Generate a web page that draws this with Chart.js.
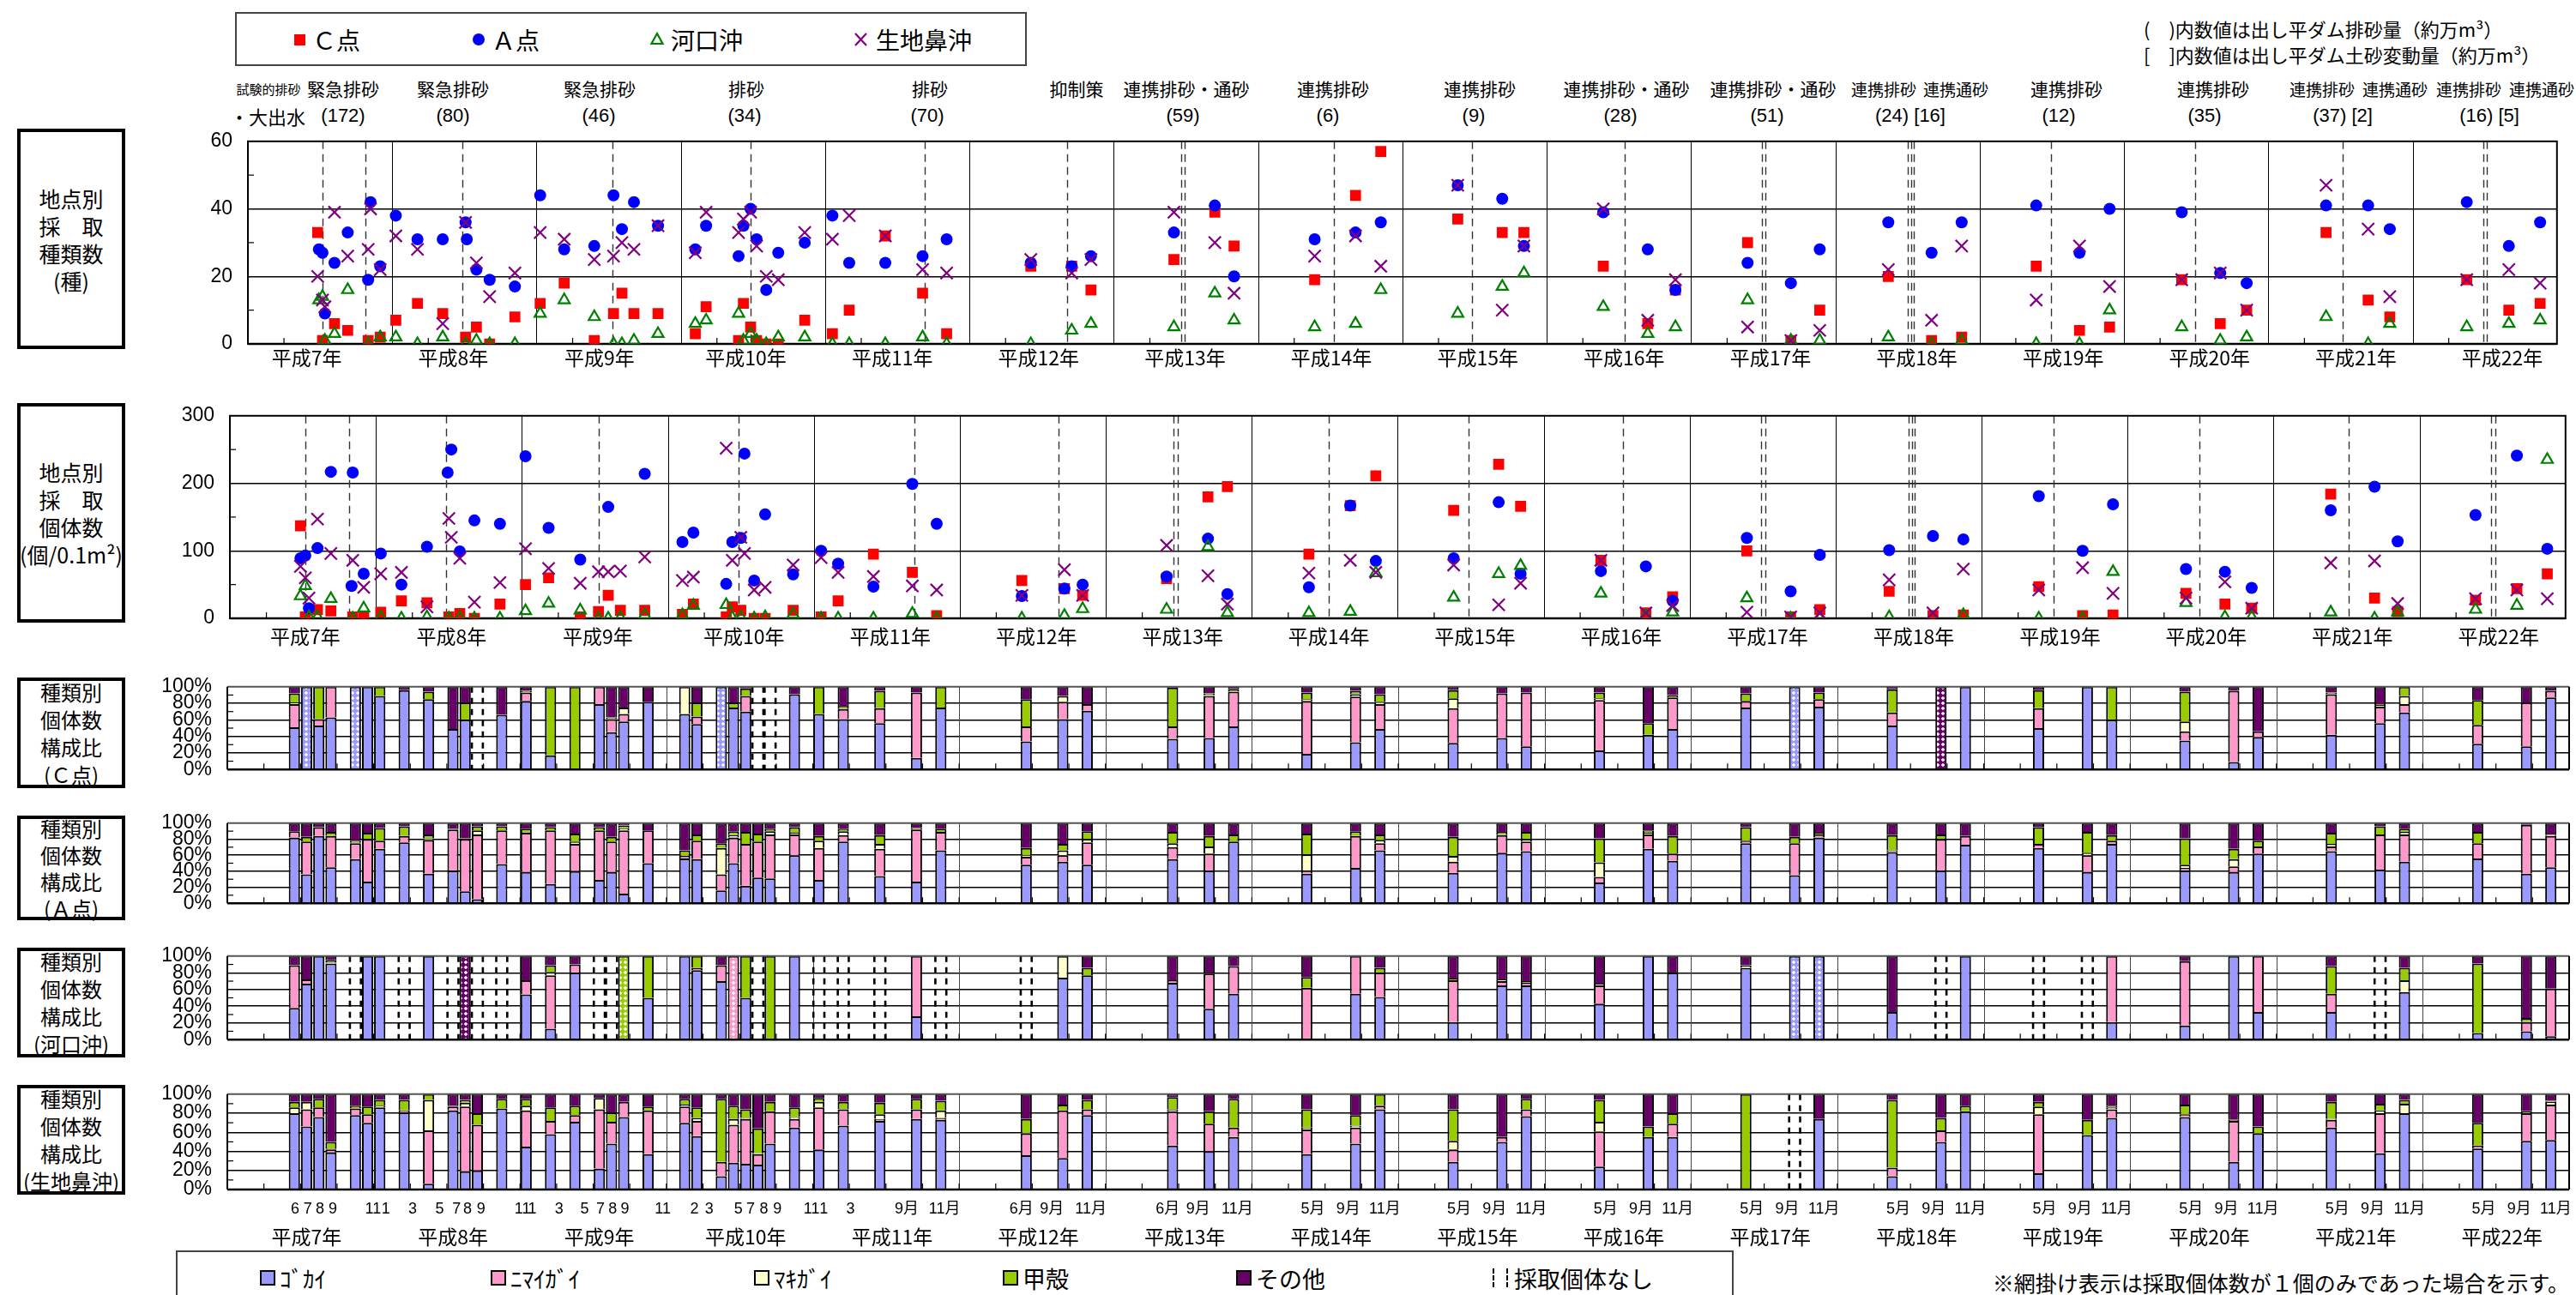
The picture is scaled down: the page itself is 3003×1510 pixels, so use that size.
<!DOCTYPE html>
<html lang="ja">
<head>
<meta charset="utf-8">
<title>地点別 採取種類数・個体数・種類別個体数構成比</title>
<script src="https://cdn.jsdelivr.net/npm/chart.js@4.4.1/dist/chart.umd.min.js"></script>
<style>
  body { margin: 0; width: 3003px; height: 1510px; position: relative; overflow: hidden; background: #fff;
         font-family: "Noto Sans CJK JP", sans-serif; color: #000; }
  canvas { position: absolute; left: 0; }
  .t { position: absolute; white-space: nowrap; line-height: 1; transform: translate(-50%, -50%); }
  .l { position: absolute; white-space: nowrap; line-height: 1; transform: translateY(-50%); }
  .num { font-family: "Liberation Sans", sans-serif; }
  .box { position: absolute; left: 20px; width: 126px; border: 4px solid #000; box-sizing: border-box;
         display: flex; align-items: center; justify-content: center; text-align: center; }
  .frame { position: absolute; border: 2px solid #444; box-sizing: border-box; }
  .sq { position: absolute; width: 18px; height: 18px; border: 2px solid #000; box-sizing: border-box; }
</style>
</head>
<body>

<!-- top legend -->
<div class="frame" style="left:274px;top:14px;width:923px;height:63px"></div>
<svg style="position:absolute;left:0;top:0" width="1200" height="80">
  <rect x="343" y="40" width="13" height="13" fill="#ff0000"/>
  <circle cx="558" cy="46" r="7" fill="#0000ff"/>
  <polygon points="766,39 772.5,51 759.5,51" fill="none" stroke="#008000" stroke-width="2.2"/>
  <path d="M997 39 L1010 53 M1010 39 L997 53" stroke="#800080" stroke-width="2.2"/>
</svg>
<div class="l" style="left:364px;top:46px;font-size:28px">Ｃ点</div>
<div class="l" style="left:573px;top:46px;font-size:28px">Ａ点</div>
<div class="l" style="left:782px;top:46px;font-size:28px">河口沖</div>
<div class="l" style="left:1021px;top:46px;font-size:28px">生地鼻沖</div>

<div class="l" style="left:2499px;top:33px;font-size:22px">(　)内数値は出し平ダム排砂量（約万m³）</div>
<div class="l" style="left:2499px;top:63px;font-size:22px">[　]内数値は出し平ダム土砂変動量（約万m³）</div>

<div id="notes"></div>

<!-- left title boxes -->
<div class="box" style="top:150px;height:257px;font-size:25px;line-height:32px">地点別<br>採　取<br>種類数<br>(種)</div>
<div class="box" style="top:470px;height:256px;font-size:25px;line-height:32px">地点別<br>採　取<br>個体数<br>(個/0.1m²)</div>
<div class="box" style="top:790px;height:129px;font-size:24px;line-height:32px">種類別<br>個体数<br>構成比<br>(Ｃ点)</div>
<div class="box" style="top:951px;height:122px;font-size:24px;line-height:31px">種類別<br>個体数<br>構成比<br>(Ａ点)</div>
<div class="box" style="top:1105px;height:128px;font-size:24px;line-height:32px">種類別<br>個体数<br>構成比<br>(河口沖)</div>
<div class="box" style="top:1265px;height:128px;font-size:24px;line-height:32px">種類別<br>個体数<br>構成比<br>(生地鼻沖)</div>

<!-- bottom legend -->
<div class="frame" style="left:205px;top:1458px;width:1816px;height:70px"></div>
<div id="catLegend"></div>
<div class="l" style="right:8px;top:1495px;font-size:25px">※網掛け表示は採取個体数が１個のみであった場合を示す。</div>

<script>
// ---------- Data ---------- //
// x positions are months counted from January of 平成7年 (0 .. 192)

const yearNames = ['平成7年', '平成8年', '平成9年', '平成10年', '平成11年', '平成12年', '平成13年', '平成14年',
                   '平成15年', '平成16年', '平成17年', '平成18年', '平成19年', '平成20年', '平成21年', '平成22年'];

// flushing events (dashed lines) and their captions
const events = [6.2, 9.8, 17.8, 30.3, 41.8, 56.3, 68.1, 77.6, 77.9, 90.3, 101.8, 114.5,
                125.9, 126.2, 138.0, 138.3, 138.5, 149.9, 161.9, 174.2, 185.9, 186.2];
const eventNames = [
  ['試験的排砂', 313, 15], ['緊急排砂', 400, 21], ['緊急排砂', 528, 21], ['緊急排砂', 699, 21],
  ['排砂', 870, 21], ['排砂', 1084, 21], ['抑制策', 1255, 21], ['連携排砂・通砂', 1383, 21],
  ['連携排砂', 1554, 21], ['連携排砂', 1725, 21], ['連携排砂・通砂', 1896, 21], ['連携排砂・通砂', 2067, 21],
  ['連携排砂', 2196, 19], ['連携通砂', 2280, 19], ['連携排砂', 2409, 21], ['連携排砂', 2580, 21],
  ['連携排砂', 2707, 19], ['連携通砂', 2792, 19], ['連携排砂', 2878, 19], ['連携通砂', 2963, 19]
];
const eventVolumes = [
  ['(172)', 400], ['(80)', 528], ['(46)', 698], ['(34)', 868], ['(70)', 1081], ['(59)', 1379],
  ['(6)', 1548], ['(9)', 1718], ['(28)', 1889], ['(51)', 2060], ['(24) [16]', 2227], ['(12)', 2400],
  ['(35)', 2570], ['(37) [2]', 2731], ['(16) [5]', 2902]
];

// 地点別採取種類数 (種)  [month, value]
const spC = [[5.8,33],[6.2,1],[7.2,6],[8.3,4],[10.0,1],[11.0,2],[12.3,7],[14.1,12],[16.2,9],[18.1,2],[19.0,5],[20.1,0],
  [22.2,8],[24.3,12],[26.3,18],[28.8,1],[30.4,9],[31.1,15],[32.1,9],[34.1,9],[37.2,3],[38.1,11],[40.8,1],[41.2,12],
  [41.8,5],[42.3,1],[43.1,0],[44.1,0],[46.3,7],[48.6,3],[50.0,10],[53.0,32],[56.1,15],[58.1,3],[65.1,23],[68.5,23],
  [70.1,16],[77.0,25],[80.4,39],[82.0,29],[88.7,19],[92.1,44],[94.2,57],[100.6,37],[104.3,33],[106.1,33],[112.7,23],
  [116.4,6],[118.7,16],[124.7,30],[128.3,1],[130.7,10],[136.4,20],[140.0,1],[142.5,2],[148.7,23],[152.3,4],[154.8,5],
  [160.8,19],[164.0,6],[166.2,10],[172.8,33],[176.3,13],[178.1,8],[184.5,19],[188.0,10],[190.6,12]];
const spA = [[5.9,28],[6.2,27],[6.4,9],[7.2,24],[8.3,33],[10.0,19],[10.2,42],[11.0,23],[12.3,38],[14.1,31],[16.2,31],
  [18.1,36],[18.2,31],[19.0,22],[20.1,19],[22.2,17],[24.3,44],[26.3,28],[28.8,29],[30.4,44],[31.1,34],[32.1,42],[34.1,35],
  [37.2,28],[38.1,35],[40.8,26],[41.2,35],[41.8,40],[42.3,31],[43.1,16],[44.1,27],[46.3,30],[48.6,38],[50.0,24],[53.0,24],
  [56.1,26],[58.1,31],[65.1,24],[68.5,23],[70.1,26],[77.0,33],[80.4,41],[82.0,20],[88.7,31],[92.1,33],[94.2,36],
  [100.6,47],[104.3,43],[106.1,29],[112.7,39],[116.4,28],[118.7,16],[124.7,24],[128.3,18],[130.7,28],[136.4,36],
  [140.0,27],[142.5,36],[148.7,41],[152.3,27],[154.8,40],[160.8,39],[164.0,21],[166.2,18],[172.8,41],[176.3,41],
  [178.1,34],[184.5,42],[188.0,29],[190.6,36]];
const spK = [[5.9,13],[6.2,14],[6.4,1],[7.2,3],[8.3,16],[10.0,0],[11.0,2],[12.3,2],[14.1,0],[16.2,2],[18.1,0],[19.0,1],
  [20.1,0],[22.2,0],[24.3,9],[26.3,13],[28.8,8],[30.4,0],[31.1,0],[32.1,1],[34.1,3],[37.2,6],[38.1,7],[40.8,9],[41.2,1],
  [41.8,3],[42.3,1],[43.1,0],[44.1,2],[46.3,2],[48.6,0],[50.0,0],[53.0,0],[56.1,2],[58.1,0],[65.1,0],[68.5,4],[70.1,6],
  [77.0,5],[80.4,15],[82.0,7],[88.7,5],[92.1,6],[94.2,16],[100.6,9],[104.3,17],[106.1,21],[112.7,11],[116.4,3],[118.7,5],
  [124.7,13],[128.3,1],[130.7,1],[136.4,2],[140.0,0],[142.5,1],[148.7,0],[152.3,0],[154.8,10],[160.8,5],[164.0,1],
  [166.2,2],[172.8,8],[176.3,0],[178.1,6],[184.5,5],[188.0,6],[190.6,7]];
const spX = [[5.8,20],[6.2,13],[6.4,11],[7.2,39],[8.3,26],[10.0,28],[10.2,40],[11.0,22],[12.3,32],[14.1,28],[16.2,6],
  [18.1,36],[19.0,24],[20.1,14],[22.2,21],[24.3,33],[26.3,31],[28.8,25],[30.4,26],[31.1,30],[32.1,28],[34.1,35],[37.2,27],
  [38.1,39],[40.8,33],[41.2,37],[41.8,39],[42.3,29],[43.1,20],[44.1,19],[46.3,33],[48.6,31],[50.0,38],[53.0,32],[56.1,22],
  [58.1,21],[65.1,25],[68.5,21],[70.1,25],[77.0,39],[80.4,30],[82.0,15],[88.7,26],[92.1,32],[94.2,23],[100.6,47],
  [104.3,10],[106.1,29],[112.7,40],[116.4,7],[118.7,19],[124.7,5],[128.3,1],[130.7,4],[136.4,22],[140.0,7],[142.5,29],
  [148.7,13],[152.3,29],[154.8,17],[160.8,19],[164.0,21],[166.2,10],[172.8,47],[176.3,34],[178.1,14],[184.5,19],
  [188.0,22],[190.6,18]];

// 地点別採取個体数 (個/0.1m2)  [month, value]
const inC = [[5.8,137],[6.2,2],[7.2,13],[8.3,11],[10.1,2],[11.0,3],[12.4,9],[14.1,26],[16.2,23],[18.0,2],[18.9,7],[20.1,0],
  [22.2,21],[24.3,50],[26.2,60],[28.8,2],[30.3,10],[31.1,34],[32.1,12],[34.1,12],[37.2,6],[38.1,21],[40.8,2],[41.3,17],
  [42.0,12],[43.1,0],[44.0,0],[46.3,12],[48.6,2],[50.0,26],[52.9,95],[56.1,68],[58.1,4],[65.1,56],[68.6,44],[70.1,34],
  [77.0,59],[80.4,180],[82.0,195],[88.7,95],[92.1,167],[94.2,211],[100.6,160],[104.3,228],[106.1,166],[112.7,86],
  [116.4,8],[118.6,32],[124.7,100],[128.3,2],[130.7,13],[136.4,40],[140.0,4],[142.5,5],[148.7,47],[152.3,4],[154.8,5],
  [160.8,37],[164.0,21],[166.2,15],[172.7,184],[176.3,30],[178.2,10],[184.6,27],[188.0,44],[190.5,66]];
const inA = [[5.8,89],[6.2,93],[6.5,15],[7.2,104],[8.3,217],[10.0,48],[10.1,216],[11.0,66],[12.4,96],[14.1,50],[16.2,106],
  [17.9,216],[18.2,250],[18.9,99],[20.1,145],[22.2,140],[24.3,240],[26.2,134],[28.8,87],[31.1,165],[34.1,214],[37.2,113],
  [38.1,127],[40.8,51],[41.3,113],[42.0,119],[42.3,244],[43.1,56],[44.0,154],[46.3,65],[48.6,100],[50.0,81],[52.9,47],
  [56.1,199],[58.1,140],[65.1,33],[68.6,44],[70.1,50],[77.0,62],[80.4,118],[82.0,36],[88.7,46],[92.1,167],[94.2,85],
  [100.6,89],[104.3,172],[106.1,66],[112.7,70],[116.4,77],[118.6,26],[124.7,119],[128.3,40],[130.7,94],[136.4,101],
  [140.0,122],[142.5,117],[148.7,181],[152.3,100],[154.8,169],[160.8,73],[164.0,69],[166.2,45],[172.7,160],[176.3,195],
  [178.2,114],[184.6,153],[188.0,241],[190.5,103]];
const inK = [[5.8,33],[6.2,48],[6.5,2],[7.2,2],[8.3,29],[10.1,0],[11.0,15],[12.4,2],[14.1,0],[16.2,2],[18.0,0],[18.9,1],
  [20.1,0],[22.2,0],[24.3,11],[26.2,22],[28.8,12],[30.3,0],[31.1,0],[32.1,1],[34.1,5],[37.2,5],[38.1,19],[40.8,20],
  [41.3,1],[42.0,2],[43.1,0],[44.0,2],[46.3,6],[48.6,0],[50.0,0],[52.9,0],[56.1,7],[58.1,0],[65.1,0],[68.6,4],[70.1,14],
  [77.0,13],[80.4,106],[82.0,8],[88.7,8],[92.1,10],[94.2,67],[100.6,31],[104.3,66],[106.1,78],[112.7,37],[116.4,4],
  [118.6,9],[124.7,30],[128.3,0],[130.7,0],[136.4,2],[140.0,0],[142.5,5],[148.7,0],[152.3,0],[154.8,69],[160.8,23],
  [164.0,2],[166.2,2],[172.7,9],[176.3,0],[178.2,9],[184.6,13],[188.0,19],[190.5,235]];
const inX = [[5.8,77],[6.2,60],[6.5,30],[7.2,147],[8.3,96],[10.1,86],[11.0,46],[12.4,66],[14.1,68],[16.2,17],[18.0,148],
  [18.2,120],[18.9,89],[20.1,24],[22.2,53],[24.3,103],[26.2,74],[28.8,52],[30.3,69],[31.1,69],[32.1,70],[34.1,91],
  [37.2,56],[38.1,61],[40.8,252],[41.3,86],[42.0,120],[42.3,96],[43.1,42],[44.0,46],[46.3,79],[48.6,90],[50.0,68],
  [52.9,62],[56.1,48],[58.1,42],[65.1,34],[68.6,72],[70.1,34],[77.0,108],[80.4,63],[82.0,21],[88.7,67],[92.1,86],
  [94.2,68],[100.6,79],[104.3,20],[106.1,52],[112.7,86],[116.4,8],[118.6,19],[124.7,9],[128.3,2],[130.7,8],[136.4,57],
  [140.0,8],[142.5,73],[148.7,42],[152.3,75],[154.8,37],[160.8,30],[164.0,54],[166.2,15],[172.7,82],[176.3,85],
  [178.2,22],[184.6,29],[188.0,42],[190.5,29]];

// 種類別個体数構成比: sampling month slots, and per slot [ｺﾞｶｲ, ﾆﾏｲｶﾞｲ, ﾏｷｶﾞｲ, 甲殻, その他] in %
// null = 採取個体なし
const cats = ['ｺﾞｶｲ', 'ﾆﾏｲｶﾞｲ', 'ﾏｷｶﾞｲ', '甲殻', 'その他'];
const catColors = ['#9999ff', '#ff99cc', '#ffffcc', '#99cc00', '#660066'];

const barSlots = [5, 6, 7, 8, 10, 11, 12, 14, 16, 18, 19, 20, 22, 24, 26, 28, 30, 31, 32, 34, 37, 38, 40, 41, 42, 43, 44,
  46, 48, 50, 53, 56, 58, 65, 68, 70, 77, 80, 82, 88, 92, 94, 100, 104, 106, 112, 116, 118, 124, 128, 130, 136, 140, 142,
  148, 152, 154, 160, 164, 166, 172, 176, 178, 184, 188, 190];

const compC = [[51,28,2,11,8],[100,0,0,0,0],[53,8,0,39,0],[63,37,0,0,0],[100,0,0,0,0],[100,0,0,0,0],[89,0,0,11,0],
  [96,0,0,0,4],[85,0,0,9,6],[49,0,0,0,51],[60,0,0,21,19],null,[66,0,0,0,34],[83,10,0,2,5],[17,0,0,83,0],[0,0,0,100,0],
  [79,21,0,0,0],[45,16,0,2,37],[58,9,8,0,25],[82,0,0,0,18],[67,0,33,0,0],[55,9,0,17,19],[100,0,0,0,0],[75,0,0,6,19],
  [70,19,0,9,2],null,null,[91,0,0,0,9],[67,0,0,33,0],[61,12,2,2,23],[56,18,0,21,5],[14,79,0,0,7],[75,0,0,25,0],
  [34,18,0,33,15],[61,21,7,0,11],[71,8,0,0,21],[37,15,0,47,1],[38,51,1,2,8],[52,42,0,3,3],[19,64,2,8,7],[33,55,3,4,5],
  [49,30,3,9,9],[32,42,12,10,4],[38,54,0,0,8],[28,65,0,0,7],[23,61,2,7,7],[42,0,0,14,44],[49,38,0,3,10],[75,8,0,9,8],
  [100,0,0,0,0],[76,9,0,8,7],[53,16,0,28,3],[0,0,0,0,100],[100,0,0,0,0],[50,24,0,22,4],[100,0,0,0,0],[60,0,0,40,0],
  [35,11,12,36,6],[9,86,0,0,5],[39,7,0,0,54],[42,49,0,2,7],[56,20,2,1,21],[69,10,10,11,0],[31,23,0,30,16],
  [28,53,0,0,19],[87,8,0,0,5]];
const compA = [[82,8,0,0,10],[36,41,0,6,17],[84,11,0,0,5],[45,39,0,5,11],[55,20,1,2,22],[27,53,0,8,12],[68,10,0,16,6],
  [76,8,0,12,4],[37,42,2,5,14],[41,51,0,1,7],[15,65,0,1,19],[5,81,5,5,4],[49,42,0,5,4],[39,49,1,4,7],[24,67,0,4,5],
  [40,34,3,10,13],[29,62,0,4,5],[39,38,0,6,17],[12,79,3,3,3],[50,41,0,0,9],[56,3,0,7,34],[55,23,0,8,14],[16,20,33,6,25],
  [50,32,3,5,10],[22,52,0,15,11],[32,45,0,10,13],[31,55,4,3,7],[60,26,2,7,5],[29,40,9,6,16],[77,8,5,3,7],[34,34,6,11,15],
  [27,65,0,2,6],[66,23,0,4,7],[48,10,2,9,31],[52,8,6,8,26],[48,28,4,10,10],[55,15,5,14,11],[41,21,9,13,16],[77,0,0,9,14],
  [37,4,20,26,13],[44,40,0,6,10],[66,9,4,7,14],[38,14,7,24,17],[63,22,1,3,11],[65,12,3,9,11],[26,7,18,30,19],
  [68,18,2,3,9],[53,9,0,22,16],[75,3,0,17,5],[35,40,0,8,17],[82,4,0,2,12],[64,2,0,19,15],[41,39,0,6,14],[73,11,0,0,16],
  [69,5,0,21,5],[39,21,3,26,11],[74,4,0,7,15],[41,3,4,33,19],[39,7,9,13,32],[62,9,1,6,22],[65,6,3,14,12],[42,44,0,10,4],
  [52,34,3,4,7],[56,19,0,14,11],[37,61,0,0,2],[45,39,1,1,14]];
const compK = [[38,51,0,0,11],[67,5,0,0,28],[100,0,0,0,0],[91,0,1,3,5],null,[100,0,0,0,0],[100,0,0,0,0],null,
  [100,0,0,0,0],null,[0,0,0,0,100],null,null,[54,17,0,0,29],[13,64,4,8,11],[80,10,0,0,10],null,null,[0,0,0,100,0],
  [50,0,0,50,0],[100,0,0,0,0],[83,3,0,14,0],[70,19,0,0,11],[0,100,0,0,0],[50,0,0,50,0],null,[0,0,0,100,0],
  [100,0,0,0,0],null,null,null,[28,72,0,0,0],null,null,[74,0,26,0,0],[77,0,0,9,14],[68,3,0,0,29],[37,42,0,1,20],
  [55,33,0,0,12],[0,62,0,13,25],[55,45,0,0,0],[51,29,0,6,14],[21,50,0,2,27],[65,5,2,0,28],[65,3,0,2,30],[43,22,2,0,33],
  [100,0,0,0,0],[80,0,0,0,20],[86,0,3,0,11],[100,0,0,0,0],[100,0,0,0,0],[33,0,0,0,67],null,[100,0,0,0,0],null,null,
  [21,79,0,0,0],[17,77,0,0,6],[100,0,0,0,0],[33,67,0,0,0],[33,22,0,33,12],null,[57,0,14,15,14],[8,0,0,83,9],
  [10,11,0,5,74],[4,57,0,0,39]];
const compX = [[80,0,6,6,8],[66,18,8,0,8],[76,10,0,9,5],[39,3,1,7,50],[78,7,0,3,12],[70,9,0,8,13],[86,0,2,6,6],
  [81,2,0,11,6],[6,56,32,6,0],[83,4,0,1,12],[19,68,4,3,6],[20,48,0,12,20],[85,0,0,10,5],[45,38,5,7,5],[58,14,0,14,14],
  [71,7,0,10,12],[22,62,12,0,4],[48,23,0,10,19],[76,16,0,0,8],[37,46,0,4,13],[70,17,2,6,5],[56,16,3,11,14],
  [14,15,0,66,5],[28,40,6,14,12],[27,47,1,9,16],[26,11,1,26,36],[48,34,0,10,8],[65,9,2,10,14],[42,44,6,4,4],
  [67,17,0,8,8],[72,2,5,12,9],[74,10,0,11,5],[73,2,8,10,7],[36,23,0,15,26],[33,50,0,6,11],[78,6,0,10,6],[46,36,2,13,3],
  [40,29,0,13,18],[55,10,0,30,5],[37,26,2,19,16],[48,17,2,11,22],[84,4,1,11,0],[29,13,9,33,16],[50,5,0,0,45],
  [77,7,0,11,5],[24,37,10,23,6],[55,0,0,11,34],[55,14,0,11,20],[0,0,0,100,0],null,[74,0,0,0,26],[14,9,0,71,6],
  [50,12,0,13,25],[82,0,0,6,12],[17,62,8,5,8],[57,0,0,16,27],[75,9,2,2,12],[76,3,0,10,11],[29,43,0,1,27],[59,0,0,7,34],
  [65,8,1,18,8],[38,42,3,7,10],[80,0,10,4,6],[43,3,0,24,30],[51,29,0,2,18],[52,37,3,1,7]];

// slots where only one individual was caught (網掛け)
const hatchC = [6, 10, 40, 128, 140];
const hatchK = [19, 32, 41, 128, 130];

// month tick labels under the composition bars [position in slots, text]
const monthLabels = [[5.06,'6'],[6.1,'7'],[7.1,'8'],[8.15,'9'],[11.45,'11'],[12.5,'1'],[14.7,'3'],[16.9,'5'],
  [18.3,'7'],[19.2,'8'],[20.3,'9'],[23.7,'11'],[24.5,'1'],[26.7,'3'],[28.8,'5'],[30.1,'7'],[31.1,'8'],[32.1,'9'],
  [35.2,'11'],[37.8,'2'],[39.0,'3'],[41.4,'5'],[42.4,'7'],[43.5,'8'],[44.6,'9'],[47.4,'11'],[48.4,'1'],[50.6,'3'],
  [55.2,'9月'],[58.3,'11月'],[64.6,'6月'],[67.1,'9月'],[70.3,'11月'],
  [76.6,'6月'],[79.1,'9月'],[82.3,'11月'],[88.5,'5月'],[91.4,'9月'],[94.4,'11月'],[100.5,'5月'],[103.4,'9月'],
  [106.4,'11月'],[112.5,'5月'],[115.4,'9月'],[118.4,'11月'],[124.5,'5月'],[127.4,'9月'],[130.4,'11月'],[136.5,'5月'],
  [139.4,'9月'],[142.4,'11月'],[148.5,'5月'],[151.4,'9月'],[154.4,'11月'],[160.5,'5月'],[163.4,'9月'],[166.4,'11月'],
  [172.5,'5月'],[175.4,'9月'],[178.4,'11月'],[184.5,'5月'],[187.4,'9月'],[190.4,'11月']];

// ---------- Helpers ---------- //
Chart.defaults.font.family = '"Liberation Sans", "Noto Sans CJK JP", sans-serif';
Chart.defaults.color = '#000';
Chart.defaults.animation = false;

const NS = '"Liberation Sans", "Noto Sans CJK JP", sans-serif';

function addCanvas(top, width, height) {
  const cv = document.createElement('canvas');
  cv.width = width; cv.height = height;
  cv.style.top = top + 'px';
  document.body.appendChild(cv);
  return cv;
}

function line(ctx, x1, y1, x2, y2) {
  ctx.beginPath(); ctx.moveTo(x1, y1); ctx.lineTo(x2, y2); ctx.stroke();
}

function meshPattern(color) {
  const c = document.createElement('canvas');
  c.width = c.height = 6;
  const g = c.getContext('2d');
  g.fillStyle = color; g.fillRect(0, 0, 6, 6);
  g.fillStyle = '#fff';
  g.beginPath(); g.moveTo(3, 0.7); g.lineTo(5.3, 3); g.lineTo(3, 5.3); g.lineTo(0.7, 3); g.closePath(); g.fill();
  return g.createPattern(c, 'repeat');
}

function yAxis(frame, max, step, major, suffix) {
  return {
    min: 0, max: max,
    afterFit: s => { s.width = frame.left; },
    ticks: { stepSize: step, autoSkip: false, padding: 18, font: { size: 23 },
             callback: v => (v % major === 0 ? v + suffix : '') },
    grid: { drawTicks: false, lineWidth: 1.5,
            color: c => (c.tick && c.tick.value % major === 0 && c.tick.value > 0 && c.tick.value < max) ? '#000' : 'rgba(0,0,0,0)' },
    border: { display: false }
  };
}

// ---------- Scatter panels (種類数 / 個体数) ---------- //
const scatterDecor = {
  id: 'decor',
  beforeDatasetsDraw(chart, args, o) {
    const { ctx, chartArea: a, scales: { x, y } } = chart;
    ctx.save();
    ctx.strokeStyle = '#000';
    ctx.lineWidth = 1;
    for (let k = 1; k < 16; k++) {
      const px = Math.round(x.getPixelForValue(12 * k)) + 0.5;
      line(ctx, px, a.top, px, a.bottom);
    }
    ctx.lineWidth = 1.2;
    for (let k = 0; k < 16; k++) {
      const px = x.getPixelForValue(12 * k + 3);
      line(ctx, px, a.bottom, px, a.bottom - 7);
    }
    y.ticks.forEach(t => {
      if (t.value % o.major !== 0) { const py = y.getPixelForValue(t.value); line(ctx, a.left, py, a.left + 7, py); }
    });
    ctx.strokeStyle = '#333';
    ctx.lineWidth = 1.4;
    ctx.setLineDash([9, 6]);
    events.forEach(m => {
      const px = Math.round(x.getPixelForValue(m)) + 0.5;
      line(ctx, px, a.top, px, a.bottom);
    });
    ctx.setLineDash([]);
    ctx.strokeStyle = '#000';
    ctx.lineWidth = 2;
    ctx.strokeRect(a.left, a.top, a.width, a.height);
    ctx.lineWidth = 2.5;
    line(ctx, a.left, a.bottom, a.right, a.bottom);
    ctx.restore();
  },
  afterDraw(chart, args, o) {
    const { ctx, chartArea: a, scales: { x } } = chart;
    ctx.save();
    ctx.font = '23px "Noto Sans CJK JP"';
    ctx.fillStyle = '#000';
    ctx.textAlign = 'center';
    ctx.textBaseline = 'middle';
    yearNames.forEach((t, k) => ctx.fillText(t, x.getPixelForValue(o.yearPos(k)), a.bottom + o.labelGap));
    ctx.restore();
  }
};

function pts(arr) { return arr.map(([x, y]) => ({ x, y })); }

function scatterPanel(frame, max, step, major, series, yearPos, labelGap) {
  const cv = addCanvas(frame.top - 20, frame.right + 8, frame.bottom - frame.top + 60);
  return new Chart(cv, {
    type: 'scatter',
    data: {
      datasets: [
        { label: '生地鼻沖', data: pts(series[3]), pointStyle: 'crossRot', pointRadius: 10, borderColor: '#800080',
          backgroundColor: '#800080', borderWidth: 2.2, order: 0 },
        { label: '河口沖', data: pts(series[2]), pointStyle: 'triangle', pointRadius: 7.5, borderColor: '#008000',
          backgroundColor: 'rgba(255,255,255,0)', borderWidth: 2.2, order: 1 },
        { label: 'Ａ点', data: pts(series[1]), pointStyle: 'circle', pointRadius: 7, borderColor: '#0000ff',
          backgroundColor: '#0000ff', borderWidth: 0, order: 2 },
        { label: 'Ｃ点', data: pts(series[0]), pointStyle: 'rect', pointRadius: 9, borderColor: '#ff0000',
          backgroundColor: '#ff0000', borderWidth: 0, order: 3 }
      ]
    },
    options: {
      responsive: false,
      layout: { padding: { top: 20, right: 8, bottom: 40, left: 0 } },
      plugins: {
        legend: { display: false },
        tooltip: { enabled: false },
        decor: { major: major, yearPos: yearPos, labelGap: labelGap }
      },
      scales: {
        x: { type: 'linear', min: 0, max: 192, display: false },
        y: yAxis(frame, max, step, major, '')
      }
    },
    plugins: [scatterDecor]
  });
}

scatterPanel({ left: 289, right: 2985, top: 153, bottom: 401 }, 60, 10, 20, [spC, spA, spK, spX],
             k => 12.17 * k + 4.9, 16);
scatterPanel({ left: 268, right: 2995, top: 473, bottom: 721 }, 300, 50, 100, [inC, inA, inK, inX],
             k => 12.02 * k + 6.2, 21);

// ---------- Composition bar panels ---------- //
const slotLabels = Array.from({ length: 192 }, (_, i) => String(i));

function stackData(rows, k) {
  const d = new Array(192).fill(null);
  barSlots.forEach((s, i) => {
    const r = rows[i];
    if (!r || !r[k]) return;
    const tot = r.reduce((p, q) => p + q, 0);
    d[s] = r[k] * 100 / tot;
  });
  return d;
}

const barDecor = {
  id: 'decor',
  beforeDatasetsDraw(chart, args, o) {
    const { ctx, chartArea: a, scales: { x, y } } = chart;
    const cw = a.width / 192;
    ctx.save();
    ctx.strokeStyle = '#444';
    ctx.lineWidth = 1;
    for (let k = 1; k < 16; k++) {
      const px = Math.round(a.left + 12 * k * cw) + 0.5;
      line(ctx, px, a.top, px, a.bottom);
    }
    ctx.strokeStyle = '#000';
    ctx.lineWidth = 1.2;
    for (let j = 1; j < 64; j++) {
      const px = a.left + 3 * j * cw;
      line(ctx, px, a.bottom, px, a.bottom - 7);
    }
    y.ticks.forEach(t => {
      if (t.value % 20 !== 0) { const py = y.getPixelForValue(t.value); line(ctx, a.left, py, a.left + 7, py); }
    });
    ctx.restore();
  },
  afterDatasetsDraw(chart, args, o) {
    const { ctx, chartArea: a, scales: { x } } = chart;
    const half = a.width / 192 * 0.9 / 2;
    ctx.save();
    ctx.strokeStyle = '#000';
    ctx.lineWidth = 2.6;
    ctx.setLineDash([7, 6]);
    barSlots.forEach((s, i) => {
      if (o.rows[i] !== null) return;
      const cx = x.getPixelForValue(s);
      line(ctx, cx - half, a.top, cx - half, a.bottom);
      line(ctx, cx + half, a.top, cx + half, a.bottom);
    });
    ctx.setLineDash([]);
    ctx.strokeStyle = '#555';
    ctx.lineWidth = 2;
    line(ctx, a.left, a.top, a.right, a.top);
    ctx.strokeStyle = '#000';
    line(ctx, a.left, a.top, a.left, a.bottom);
    line(ctx, a.right, a.top, a.right, a.bottom);
    ctx.lineWidth = 2.5;
    line(ctx, a.left, a.bottom, a.right, a.bottom);
    ctx.restore();
  },
  afterDraw(chart, args, o) {
    if (!o.months) return;
    const { ctx, chartArea: a, scales: { x } } = chart;
    ctx.save();
    ctx.fillStyle = '#000';
    ctx.textAlign = 'center';
    ctx.textBaseline = 'middle';
    ctx.font = '18px ' + NS;
    monthLabels.forEach(([s, t]) => ctx.fillText(t, x.getPixelForValue(s), a.bottom + 23));
    ctx.font = '23px "Noto Sans CJK JP"';
    yearNames.forEach((t, k) => ctx.fillText(t, x.getPixelForValue(12 * k + 6), a.bottom + 55));
    ctx.restore();
  }
};

const meshes = catColors.map(meshPattern);

function barPanel(frame, rows, hatch, months) {
  const padBottom = months ? 80 : 14;
  const cv = addCanvas(frame.top - 20, frame.right + 8, frame.bottom - frame.top + 20 + padBottom);
  return new Chart(cv, {
    type: 'bar',
    data: {
      labels: slotLabels,
      datasets: cats.map((name, k) => ({
        label: name,
        data: stackData(rows, k),
        backgroundColor: c => (hatch.includes(c.dataIndex) ? meshes[k] : catColors[k]),
        borderColor: '#000',
        borderWidth: 2,
        barPercentage: 0.92,
        categoryPercentage: 1
      }))
    },
    options: {
      responsive: false,
      layout: { padding: { top: 20, right: 8, bottom: padBottom, left: 0 } },
      plugins: {
        legend: { display: false },
        tooltip: { enabled: false },
        decor: { rows: rows, months: months }
      },
      scales: {
        x: { stacked: true, display: false, offset: true },
        y: Object.assign(yAxis(frame, 100, 10, 20, '%'), { stacked: true })
      }
    },
    plugins: [barDecor]
  });
}

barPanel({ left: 265, right: 2995, top: 789, bottom: 915 }, compC, hatchC, false);
barPanel({ left: 265, right: 2995, top: 948, bottom: 1071 }, compA, [], false);
barPanel({ left: 265, right: 2995, top: 1103, bottom: 1230 }, compK, hatchK, false);
barPanel({ left: 265, right: 2995, top: 1264, bottom: 1387 }, compX, [], true);

// ---------- Text layers ---------- //
const notes = document.getElementById('notes');
eventNames.forEach(([t, cx, fs]) => {
  notes.insertAdjacentHTML('beforeend', `<div class="t" style="left:${cx}px;top:103px;font-size:${fs}px">${t}</div>`);
});
notes.insertAdjacentHTML('beforeend', '<div class="l" style="left:268px;top:135px;font-size:22px">・大出水</div>');
eventVolumes.forEach(([t, cx]) => {
  notes.insertAdjacentHTML('beforeend', `<div class="t num" style="left:${cx}px;top:135px;font-size:22px">${t}</div>`);
});

const legendX = [303, 572, 879, 1169, 1441];
const leg = document.getElementById('catLegend');
cats.forEach((name, k) => {
  leg.insertAdjacentHTML('beforeend',
    `<div class="sq" style="left:${legendX[k]}px;top:1481px;background:${catColors[k]}"></div>` +
    `<div class="l" style="left:${legendX[k] + 23}px;top:1490px;font-size:27px">${name}</div>`);
});
leg.insertAdjacentHTML('beforeend',
  '<div style="position:absolute;left:1740px;top:1479px;width:14px;height:22px;border-left:2.5px dashed #000;border-right:2.5px dashed #000"></div>' +
  '<div class="l" style="left:1765px;top:1490px;font-size:27px">採取個体なし</div>');
</script>
</body>
</html>
